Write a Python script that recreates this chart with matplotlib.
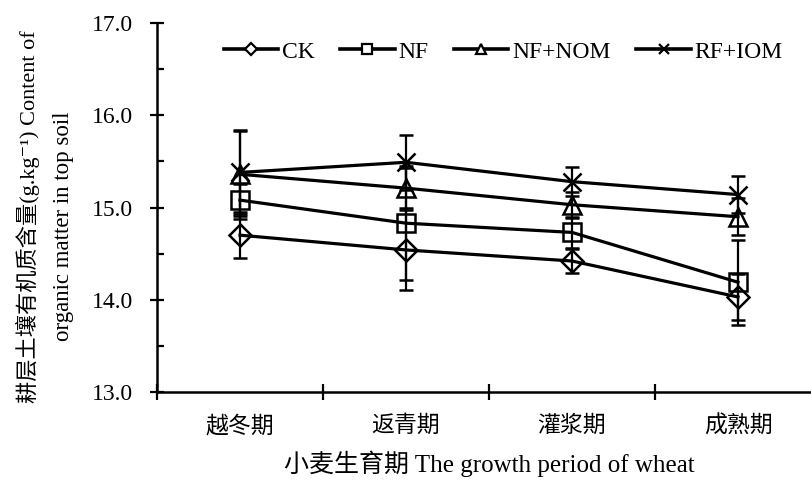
import matplotlib
matplotlib.use('Agg')
import matplotlib.pyplot as plt
from matplotlib.lines import Line2D
from matplotlib.ticker import MultipleLocator, FormatStrFormatter

plt.rcParams['font.family'] = ['Liberation Serif', 'Noto Sans CJK SC', 'DejaVu Serif']

# growth periods
periods = ['越冬期', '返青期', '灌浆期', '成熟期']

# organic matter content (g/kg) and error bars
ck = [14.70, 14.54, 14.42, 14.03]
ck_err = [0.25, 0.43, 0.13, 0.25]
nf = [15.08, 14.83, 14.73, 14.19]
nf_err = [0.17, 0.62, 0.17, 0.46]
nf_nom = [15.36, 15.21, 15.03, 14.90]
nf_nom_err = [0.48, 0.22, 0.14, 0.20]
rf_iom = [15.38, 15.49, 15.28, 15.14]
rf_iom_err = [0.45, 0.30, 0.16, 0.20]

fig = plt.figure(figsize=(8.12, 4.8), dpi=100)
ax = fig.add_axes([157/812, 88/480, 664/812, 369/480])

x = range(len(periods))
series = [(ck, ck_err, 'D', 11, 'CK'),
          (nf, nf_err, 's', 13, 'NF'),
          (nf_nom, nf_nom_err, '^', 13, 'NF+NOM'),
          (rf_iom, rf_iom_err, 'x', 13, 'RF+IOM')]

handles = []
for vals, err, mk, ms, lab in series:
    ax.errorbar(x, vals, yerr=err, color='black', lw=2.3, marker=mk, ms=ms,
                mfc='none', mec='black', mew=1.8, ecolor='black', elinewidth=1.6,
                capsize=5, capthick=1.6, clip_on=False)
    handles.append(Line2D([], [], color='black', lw=2.6, marker=mk, ms=ms * 0.6,
                          mfc='white', mec='black', mew=1.6, label=lab))

ax.set_xlim(-0.5, 3.5)
ax.set_ylim(13.0, 17.0)
ax.yaxis.set_major_locator(MultipleLocator(1.0))
ax.yaxis.set_minor_locator(MultipleLocator(0.5))
ax.yaxis.set_major_formatter(FormatStrFormatter('%.1f'))
ax.tick_params(axis='y', which='major', direction='inout', length=10, width=1.6,
               labelsize=17, pad=12)
ax.tick_params(axis='y', which='minor', direction='in', length=5, width=1.6)

ax.set_xticks(list(x))
ax.set_xticklabels(periods)
ax.set_xticks([-0.5, 0.5, 1.5, 2.5, 3.5], minor=True)
ax.tick_params(axis='x', which='major', length=0, labelsize=16.5, pad=17)
ax.tick_params(axis='x', which='minor', direction='inout', length=12, width=1.6)

for s in ['top', 'right']:
    ax.spines[s].set_visible(False)
for s in ['left', 'bottom']:
    ax.spines[s].set_linewidth(1.8)

ax.set_xlabel('小麦生育期 The growth period of wheat', fontsize=18, labelpad=9)

fig.text(0.034, 1 - 217/480, '耕层土壤有机质含量(g.kg⁻¹) Content of', rotation=90,
         fontsize=16, ha='center', va='center')
fig.text(0.078, 1 - 226/480, 'organic matter in top soil', rotation=90,
         fontsize=16.5, ha='center', va='center')

ax.legend(handles=handles, ncol=4, frameon=False, loc='center',
          bbox_to_anchor=(503/812, 1 - 52/480), bbox_transform=fig.transFigure,
          fontsize=17, handlelength=2.3, handletextpad=0.15, columnspacing=1.1)

fig.savefig('out.png', dpi=100)
